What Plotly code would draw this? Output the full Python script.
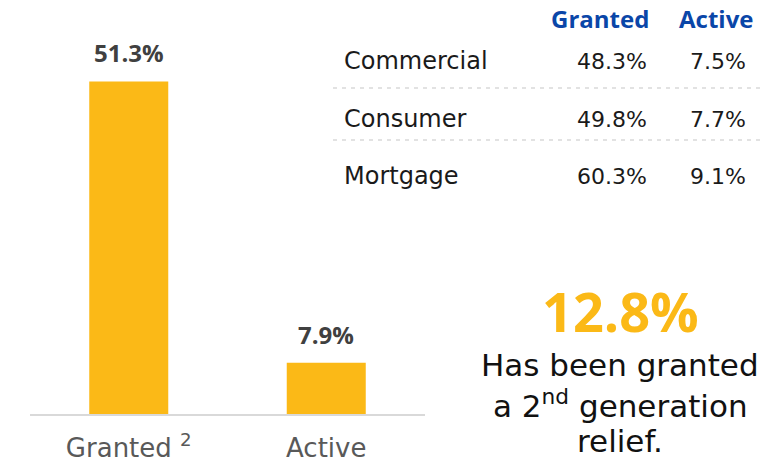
import plotly.graph_objects as go

# bar chart data
categories = ["Granted", "Active"]
category_labels = ["Granted <sup>2</sup>", "Active"]
relief_pct = [51.3, 7.9]

# segment table data
segments = ["Commercial", "Consumer", "Mortgage"]
granted_pct = [48.3, 49.8, 60.3]
active_pct = [7.5, 7.7, 9.1]
table_headers = ["Granted", "Active"]

# highlight callout
second_gen_pct = 12.8
callout_lines = ["Has been granted", "a 2<sup>nd</sup> generation", "relief."]

REG = "DejaVu Sans"
BOLD = "Open Sans"
YELLOW = "#FBB917"
BLUE = "#0A46A8"
DARK = "#404040"
GREY = "#595959"
INK = "#1a1a1a"

W, H = 776, 462


def px_x(px):
    return px / W


def px_y(px):
    # pixel from top -> paper coordinate
    return 1 - px / H


fig = go.Figure()
fig.add_trace(
    go.Bar(
        x=categories,
        y=relief_pct,
        marker={"color": YELLOW, "line": {"width": 0}},
        hoverinfo="skip",
    )
)

# value labels above bars
for cat, val in zip(categories, relief_pct):
    fig.add_annotation(
        x=cat, y=val, xref="x", yref="y",
        text=f"<b>{val:.1f}%</b>",
        showarrow=False, yanchor="bottom", yshift=10,
        font={"family": BOLD, "size": 24, "color": DARK},
    )

# table header
for head, xr in zip(table_headers, [651, 755]):
    fig.add_annotation(
        x=px_x(xr), y=px_y(18), xref="paper", yref="paper",
        text=f"<b>{head}</b>", showarrow=False,
        xanchor="right", yanchor="middle",
        font={"family": BOLD, "size": 24, "color": BLUE},
    )

row_y = [61, 119, 176]
for i, (seg, g, a) in enumerate(zip(segments, granted_pct, active_pct)):
    y = px_y(row_y[i])
    fig.add_annotation(
        x=px_x(342), y=y, xref="paper", yref="paper", text=seg,
        showarrow=False, xanchor="left", yanchor="middle",
        font={"family": REG, "size": 24, "color": INK},
    )
    for val, xr in zip([g, a], [649, 748]):
        fig.add_annotation(
            x=px_x(xr), y=y, xref="paper", yref="paper", text=f"{val:.1f}%",
            showarrow=False, xanchor="right", yanchor="middle",
            font={"family": REG, "size": 22, "color": INK},
        )

for ly in [88, 140]:
    fig.add_shape(
        type="line", xref="paper", yref="paper",
        x0=px_x(333), x1=px_x(761), y0=px_y(ly), y1=px_y(ly),
        line={"color": "#d9d9d9", "width": 1.5, "dash": "4px,5px"},
    )

# callout
fig.add_annotation(
    x=px_x(620), y=px_y(311), xref="paper", yref="paper",
    text=f"<b>{second_gen_pct:.1f}%</b>", showarrow=False,
    xanchor="center", yanchor="middle",
    font={"family": BOLD, "size": 54, "color": YELLOW},
)
for line, ly in zip(callout_lines, [365, 404, 441]):
    fig.add_annotation(
        x=px_x(620), y=px_y(ly), xref="paper", yref="paper",
        text=line, showarrow=False, xanchor="center", yanchor="middle",
        font={"family": REG, "size": 31, "color": "#111111"},
    )

fig.update_layout(
    width=W,
    height=H,
    margin={"l": 0, "r": 0, "t": 0, "b": 0},
    paper_bgcolor="white",
    plot_bgcolor="white",
    showlegend=False,
    bargap=0.6,
    font={"family": REG},
    xaxis={
        "domain": [px_x(30), px_x(425)],
        "tickmode": "array",
        "tickvals": categories,
        "ticktext": category_labels,
        "tickfont": {"family": REG, "size": 26, "color": GREY},
        "showline": True,
        "linecolor": "#d9d9d9",
        "linewidth": 2,
        "ticks": "",
        "ticklabelstandoff": 10,
        "showgrid": False,
        "zeroline": False,
    },
    yaxis={
        "domain": [1 - 414 / H, px_y(25)],
        "range": [0, 60],
        "visible": False,
    },
)

fig.write_html(
    "out.html",
    config={"displayModeBar": False},
    post_script="document.body.style.margin='0';",
)
